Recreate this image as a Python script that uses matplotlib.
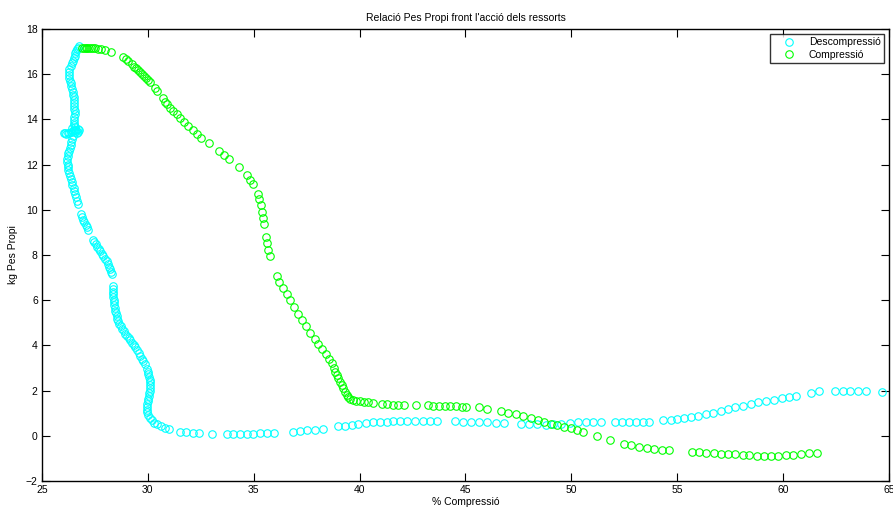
import matplotlib

matplotlib.use("Agg")
import matplotlib.pyplot as plt

plt.rcParams["font.family"] = ["Liberation Sans", "DejaVu Sans"]

# Descompressió (cyan), traced from the top-left down and right
desc_x = [
    26.76, 26.70, 26.66, 26.62, 26.58, 26.54, 26.50, 26.46, 26.42, 26.36,
    26.30, 26.26, 26.26, 26.29, 26.32, 26.35, 26.38, 26.42, 26.45, 26.48,
    26.50, 26.51, 26.52, 26.53, 26.53, 26.54, 26.54, 26.53, 26.52, 26.50,
    26.50, 26.55,
    26.02, 26.08, 26.15, 26.22, 26.30, 26.38, 26.46, 26.55, 26.62, 26.70,
    26.76, 26.72, 26.65, 26.58, 26.50, 26.42,
    26.45, 26.42, 26.38, 26.35, 26.31, 26.27, 26.24, 26.22, 26.20, 26.20,
    26.21, 26.22, 26.25, 26.28, 26.32, 26.36, 26.40, 26.44, 26.49, 26.53,
    26.57, 26.61, 26.66, 26.72,
    26.86, 26.90, 26.95, 27.00, 27.06, 27.12, 27.19,
    27.40, 27.46, 27.53, 27.60, 27.67, 27.74, 27.82, 27.90, 27.98, 28.05,
    28.12, 28.18, 28.22, 28.26, 28.29,
    28.36, 28.37, 28.37, 28.37, 28.37, 28.38, 28.39, 28.41, 28.43, 28.45,
    28.48, 28.52, 28.56, 28.61, 28.66, 28.72, 28.79, 28.86, 28.93, 29.01,
    29.09, 29.17, 29.25, 29.33, 29.41, 29.49, 29.57, 29.65, 29.72, 29.79,
    29.85,
    29.95, 29.99, 30.03, 30.06, 30.08, 30.10, 30.10, 30.10, 30.09, 30.07,
    30.05, 30.02, 29.99, 29.97, 29.95, 29.95, 29.96, 30.00, 30.08, 30.18,
    30.30, 30.45, 30.62, 30.80, 31.01,
    31.52, 31.80, 32.12, 32.41, 33.04, 33.72, 34.03, 34.35, 34.67, 34.98,
    35.30, 35.61, 35.96, 36.87, 37.18, 37.50, 37.89, 38.26,
    39.00, 39.31, 39.63, 39.94, 40.30, 40.62, 40.96, 41.28, 41.59, 41.91,
    42.25, 42.62, 42.98, 43.32, 43.67, 44.50, 44.87, 45.25, 45.64, 46.03,
    46.43, 46.82, 47.62, 48.00, 48.39, 48.79, 49.15, 49.52, 49.94, 50.33,
    50.69, 51.04, 51.39, 52.06, 52.41, 52.74, 53.05, 53.37, 53.68,
    54.34, 54.69, 55.00, 55.32, 55.66, 55.99, 56.36, 56.70, 57.05, 57.40,
    57.74, 58.12, 58.47, 58.83, 59.19, 59.57, 59.93, 60.28, 60.62, 61.33,
    61.71, 62.45, 62.81, 63.16, 63.55, 63.92, 64.65,
]
desc_y = [
    17.25, 17.18, 17.10, 17.02, 16.92, 16.82, 16.72, 16.60, 16.48, 16.35,
    16.22, 16.10, 15.98, 15.85, 15.72, 15.60, 15.48, 15.35, 15.22, 15.10,
    14.98, 14.85, 14.72, 14.60, 14.48, 14.35, 14.22, 14.10, 13.98, 13.86,
    13.75, 13.66,
    13.42, 13.38, 13.36, 13.38, 13.42, 13.45, 13.48, 13.52, 13.55, 13.58,
    13.55, 13.45, 13.40, 13.45, 13.55, 13.60,
    13.25, 13.12, 13.00, 12.88, 12.75, 12.62, 12.50, 12.38, 12.25, 12.12,
    12.00, 11.88, 11.75, 11.62, 11.48, 11.35, 11.22, 11.08, 10.95, 10.82,
    10.70, 10.55, 10.40, 10.24,
    9.80, 9.68, 9.56, 9.45, 9.33, 9.22, 9.10,
    8.68, 8.58, 8.48, 8.37, 8.27, 8.16, 8.05, 7.95, 7.83, 7.72,
    7.60, 7.48, 7.36, 7.24, 7.14,
    6.62, 6.50, 6.38, 6.26, 6.14, 6.02, 5.90, 5.78, 5.66, 5.54,
    5.42, 5.30, 5.18, 5.06, 4.95, 4.84, 4.73, 4.62, 4.52, 4.42,
    4.32, 4.22, 4.12, 4.02, 3.91, 3.80, 3.68, 3.55, 3.42, 3.29,
    3.16,
    2.96, 2.84, 2.72, 2.60, 2.48, 2.36, 2.24, 2.12, 2.00, 1.88,
    1.76, 1.64, 1.52, 1.40, 1.28, 1.16, 1.04, 0.92, 0.80, 0.68,
    0.58, 0.50, 0.42, 0.35, 0.29,
    0.18, 0.15, 0.14, 0.11, 0.08, 0.08, 0.08, 0.08, 0.09, 0.09,
    0.11, 0.12, 0.14, 0.18, 0.21, 0.24, 0.27, 0.30,
    0.42, 0.45, 0.49, 0.53, 0.56, 0.60, 0.61, 0.63, 0.64, 0.65,
    0.65, 0.65, 0.65, 0.65, 0.65, 0.64, 0.63, 0.62, 0.61, 0.60,
    0.58, 0.58, 0.54, 0.52, 0.51, 0.49, 0.50, 0.52, 0.58, 0.60,
    0.61, 0.62, 0.62, 0.62, 0.62, 0.62, 0.62, 0.62, 0.62,
    0.69, 0.70, 0.73, 0.77, 0.82, 0.88, 0.95, 1.02, 1.10, 1.17,
    1.26, 1.33, 1.41, 1.48, 1.54, 1.60, 1.67, 1.73, 1.77, 1.91,
    1.97, 2.00, 2.00, 2.00, 1.98, 1.97, 1.94,
]

# Compressió (green)
comp_x = [
    26.90, 26.98, 27.06, 27.14, 27.22, 27.30, 27.40, 27.50, 27.63, 27.80,
    28.00, 28.28,
    28.81, 28.95, 29.06, 29.24, 29.34, 29.44, 29.53, 29.63, 29.72, 29.82,
    29.91, 30.01, 30.10, 30.32, 30.43, 30.70, 30.79, 30.90, 31.04, 31.20,
    31.36, 31.52, 31.71, 31.91, 32.12, 32.31, 32.49, 32.87, 33.37, 33.61,
    33.85, 34.30, 34.68, 34.84, 34.98, 35.19, 35.26, 35.34, 35.41, 35.45,
    35.50, 35.58, 35.63, 35.69, 35.75,
    36.08, 36.21, 36.37, 36.56, 36.71, 36.92, 37.10, 37.29, 37.48, 37.67,
    37.88, 38.05, 38.24, 38.40, 38.54, 38.68, 38.78, 38.85, 38.92, 39.00,
    39.07, 39.15, 39.23, 39.31, 39.39, 39.47, 39.55, 39.67, 39.83, 40.02,
    40.21, 40.40, 40.62,
    41.06, 41.28, 41.56, 41.83, 42.10, 42.66, 43.21, 43.48, 43.75, 44.02,
    44.28, 44.55, 44.82, 45.02, 45.65, 46.00, 46.68, 47.02, 47.38, 47.73,
    48.08, 48.41, 48.72, 49.02, 49.34, 49.65, 49.97, 50.25, 50.56, 51.19,
    51.82, 52.48, 52.83, 53.19, 53.56, 53.90, 54.27, 54.62,
    55.68, 56.03, 56.37, 56.72, 57.07, 57.41, 57.74, 58.09, 58.40, 58.75,
    59.08, 59.41, 59.77, 60.12, 60.47, 60.83, 61.24, 61.60,
]
comp_y = [
    17.18, 17.18, 17.18, 17.18, 17.18, 17.18, 17.17, 17.16, 17.12, 17.10,
    17.05, 16.97,
    16.75, 16.67, 16.58, 16.44, 16.33, 16.26, 16.17, 16.08, 15.99, 15.91,
    15.82, 15.73, 15.67, 15.40, 15.26, 14.93, 14.78, 14.66, 14.51, 14.37,
    14.23, 14.05, 13.87, 13.69, 13.51, 13.34, 13.16, 12.96, 12.61, 12.42,
    12.25, 11.91, 11.54, 11.32, 11.14, 10.70, 10.46, 10.21, 9.92, 9.65,
    9.36, 8.81, 8.52, 8.22, 7.96,
    7.08, 6.81, 6.54, 6.27, 5.99, 5.71, 5.40, 5.11, 4.85, 4.56,
    4.30, 4.08, 3.83, 3.63, 3.41, 3.21, 3.01, 2.84, 2.69, 2.54,
    2.39, 2.25, 2.10, 1.95, 1.81, 1.70, 1.62, 1.57, 1.55, 1.53,
    1.50, 1.48, 1.46,
    1.41, 1.39, 1.36, 1.35, 1.35, 1.35, 1.35, 1.34, 1.33, 1.32,
    1.31, 1.30, 1.29, 1.28, 1.26, 1.20, 1.10, 1.02, 0.95, 0.86,
    0.79, 0.71, 0.62, 0.54, 0.48, 0.40, 0.33, 0.24, 0.15, -0.01,
    -0.20, -0.36, -0.42, -0.48, -0.53, -0.57, -0.62, -0.64,
    -0.72, -0.73, -0.75, -0.76, -0.79, -0.81, -0.82, -0.85, -0.86, -0.88,
    -0.89, -0.88, -0.88, -0.86, -0.84, -0.81, -0.77, -0.75,
]

x_ticks = [25, 30, 35, 40, 45, 50, 55, 60, 65]
y_ticks = [-2, 0, 2, 4, 6, 8, 10, 12, 14, 16, 18]

fig = plt.figure(figsize=(8.93, 5.07), dpi=100)
ax = fig.add_axes([0.047, 0.0513, 0.9485, 0.8915])

mk = dict(linestyle="none", marker="o", markersize=5.4, mfc="none", mew=0.8)
ax.plot(desc_x, desc_y, color="#00ffff", label="Descompressió", **mk)
ax.plot(comp_x, comp_y, color="#00ff00", label="Compressió", **mk)

ax.set_xlim(25, 65)
ax.set_ylim(-2, 18)
ax.set_xticks(x_ticks)
ax.set_yticks(y_ticks)
ax.tick_params(direction="in", length=6, width=0.8, top=True, right=True,
               labelsize=7.5, pad=3)
for sp in ax.spines.values():
    sp.set_linewidth(1.0)

ax.set_title("Relació Pes Propi front l'acció dels ressorts", fontsize=7.5, pad=6)
ax.set_xlabel("% Compressió", fontsize=7.5, labelpad=1)
ax.set_ylabel("kg Pes Propi", fontsize=7.5, labelpad=6)

leg = ax.legend(loc="upper right", fontsize=7.5, frameon=True, fancybox=False,
                borderaxespad=0.5, handlelength=3.0, handletextpad=0.4,
                borderpad=0.3, labelspacing=0.25)
leg.get_frame().set_edgecolor("black")
leg.get_frame().set_linewidth(1.0)

fig.savefig("out.png", dpi=100, facecolor="white")
